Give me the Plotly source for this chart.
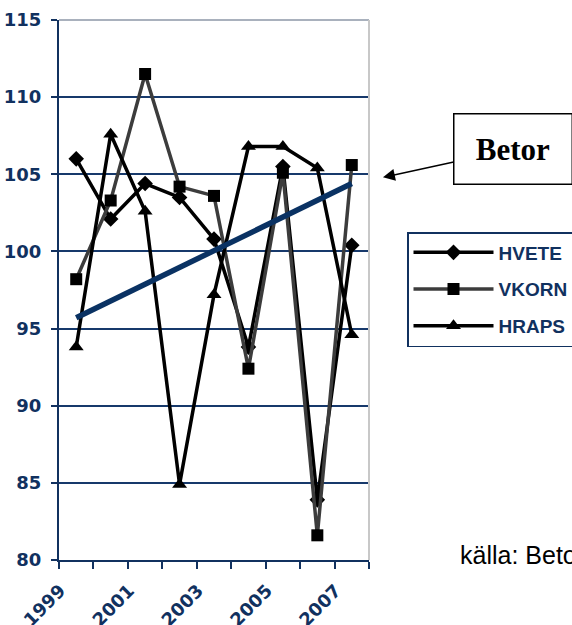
import plotly.graph_objects as go

years = ['1999', '2000', '2001', '2002', '2003', '2004', '2005', '2006', '2007']
hvete = [106.0, 102.1, 104.4, 103.5, 100.8, 93.8, 105.5, 83.9, 100.4]
vkorn = [98.2, 103.3, 111.5, 104.2, 103.6, 92.4, 105.1, 81.6, 105.6]
hraps = [93.8, 107.6, 102.6, 84.9, 97.2, 106.8, 106.8, 105.4, 94.6]
trend_years = ['1999', '2007']
trend_vals = [95.7, 104.4]
x_tick_labels = ['1999', '', '2001', '', '2003', '', '2005', '', '2007']
y_ticks = [80, 85, 90, 95, 100, 105, 110, 115]

NAVY = '#11315f'
BOLD_FONT = 'DejaVu Sans, Verdana, sans-serif'
fig = go.Figure()

fig.add_trace(go.Scatter(
    x=years, y=hvete, name='HVETE', mode='lines+markers', legendgroup='a',
    line=dict(color='#000000', width=3.5),
    marker=dict(symbol='diamond', size=12, color='#000000')))
fig.add_trace(go.Scatter(
    x=years, y=vkorn, name='VKORN', mode='lines+markers', legendgroup='b',
    line=dict(color='#3c3c3c', width=3.5),
    marker=dict(symbol='square', size=12, color='#000000')))
fig.add_trace(go.Scatter(
    x=years, y=hraps, name='HRAPS', mode='lines+markers', legendgroup='c',
    line=dict(color='#000000', width=3.5),
    marker=dict(symbol='triangle-up', size=13, color='#000000')))
fig.add_trace(go.Scatter(
    x=trend_years, y=trend_vals, name='Betor', mode='lines', showlegend=False,
    line=dict(color='#0a3263', width=5.5)))

fig.update_layout(
    width=572, height=625,
    margin=dict(l=59, r=203, t=20, b=65, autoexpand=False),
    paper_bgcolor='white', plot_bgcolor='white',
    font=dict(family='Liberation Sans, Arial, sans-serif', color=NAVY),
    legend=dict(
        xref='container', yref='container',
        x=407 / 572, y=1 - 232 / 625, xanchor='left', yanchor='top',
        bordercolor=NAVY, borderwidth=1.5, bgcolor='white',
        font=dict(size=19, color=NAVY, family='Liberation Sans, Arial, sans-serif', weight='bold'),
        tracegroupgap=9, itemwidth=80,
    ),
)

fig.update_xaxes(
    type='category', range=[-0.5, 8.5], automargin=False,
    tickvals=years, ticktext=x_tick_labels, tickson='boundaries',
    ticks='outside', ticklen=7, tickwidth=2, tickcolor=NAVY,
    showline=True, linecolor=NAVY, linewidth=2, showgrid=False,
    tickangle=-45, ticklabelshift=-16, ticklabelstandoff=11,
    tickfont=dict(size=18, color=NAVY, family=BOLD_FONT, weight='bold'),
)
fig.update_yaxes(
    range=[80, 115], tickvals=y_ticks, automargin=False,
    ticks='outside', ticklen=6, tickwidth=2, tickcolor=NAVY,
    showline=True, linecolor=NAVY, linewidth=2, ticklabelstandoff=6,
    showgrid=True, gridcolor='#17396b', gridwidth=2, zeroline=False,
    tickfont=dict(size=18, color=NAVY, family=BOLD_FONT, weight='bold'),
)

fig.add_shape(type='line', xref='paper', yref='paper', x0=0, x1=1, y0=1, y1=1,
              line=dict(color='#a9b1bd', width=2))
fig.add_shape(type='line', xref='paper', yref='paper', x0=1, x1=1, y0=0, y1=1,
              line=dict(color='#c8c8c8', width=2))

fig.add_annotation(
    x=1.045, y=0.7087, xref='paper', yref='paper',
    text='<b>Betor</b>', showarrow=True, ax=130, ay=-28,
    arrowhead=2, arrowsize=1.6, arrowwidth=1.5, arrowcolor='#000000', standoff=0,
    font=dict(family='Liberation Serif, Times New Roman, serif', size=31, color='#000000'),
    width=111, height=63, bordercolor='#000000', borderwidth=1.5, borderpad=3,
    bgcolor='white', align='center', valign='middle')

fig.add_annotation(
    x=1.287, y=-0.02, xref='paper', yref='paper', xanchor='left', yanchor='bottom',
    text='källa: Betor', showarrow=False,
    font=dict(family='Liberation Sans, Arial, sans-serif', size=25, color='#000000'))

fig.write_html('out.html', post_script="document.body.style.margin='0';",
               config={'displayModeBar': False})
